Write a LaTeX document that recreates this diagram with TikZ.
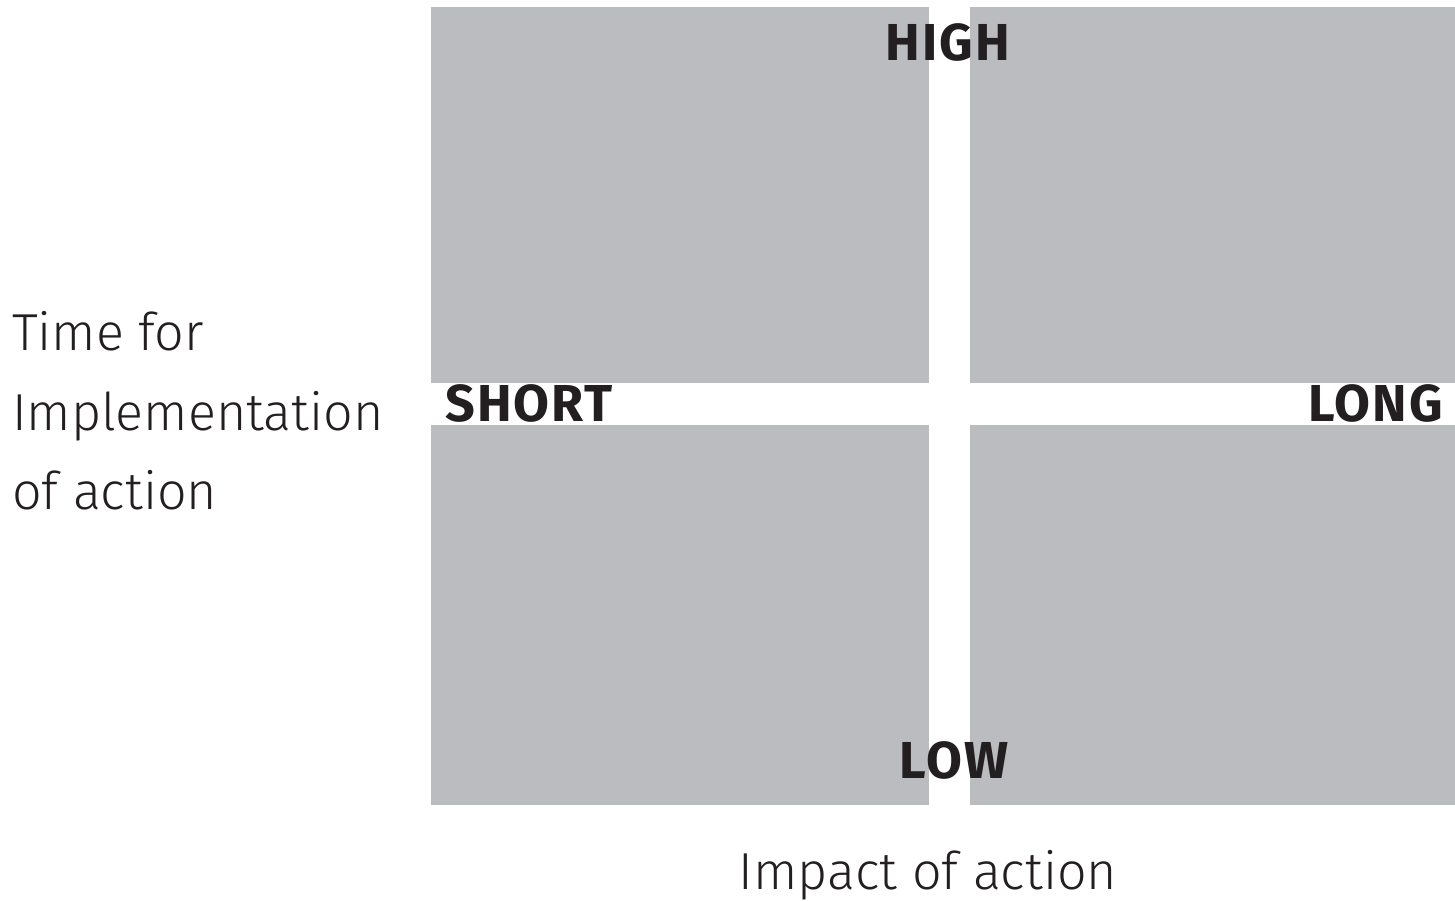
\documentclass[tikz,border=0pt]{standalone}
\usepackage{fontspec}
\setmainfont{Fira Sans Light}[BoldFont={Fira Sans Bold},BoldFeatures={LetterSpace=4}]
\definecolor{quad}{HTML}{BBBCC0}
\definecolor{ink}{HTML}{231F20}
\begin{document}
\begin{tikzpicture}[x=1pt,y=-1pt,
  quadbox/.style={fill=quad,draw=none},
  axislab/.style={inner sep=0,text=ink,font=\fontsize{52}{80}\selectfont},
  endlab/.style={inner sep=0,text=ink,font=\fontsize{52}{60}\selectfont\bfseries}]
\useasboundingbox (0,0) rectangle (1455,900);
\fill[quadbox] (431,7) rectangle (929,383);
\fill[quadbox] (970,7) rectangle (1455,383);
\fill[quadbox] (431,425) rectangle (929,805);
\fill[quadbox] (970,425) rectangle (1455,805);
\node[endlab,anchor=base] (high) at (948,60) {HIGH};
\node[endlab,anchor=base] (low) at (954,778) {LOW};
\node[endlab,anchor=base west] (short) at (445,421) {SHORT};
\node[endlab,anchor=base east] (long) at (1443,421) {LONG};
\node[axislab,anchor=base west] (t1) at (12,350) {Time for};
\node[axislab,anchor=base west] (t2) at (12,430) {Implementation};
\node[axislab,anchor=base west] (t3) at (12,509) {of action};
\node[axislab,anchor=base] (imp) at (928,889) {Impact of action};
\end{tikzpicture}
\end{document}
